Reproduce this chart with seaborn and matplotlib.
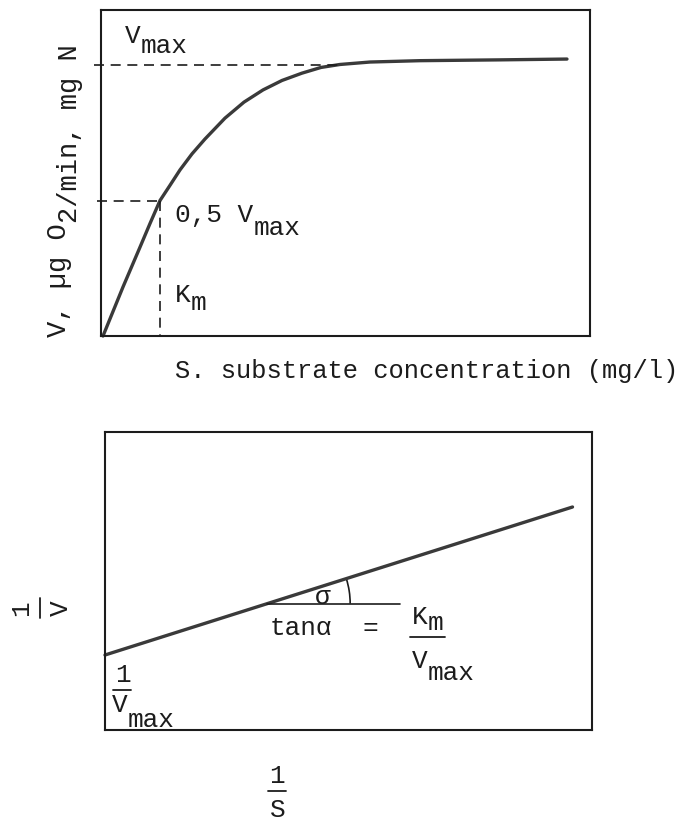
import math
import matplotlib
matplotlib.use("Agg")
import matplotlib.pyplot as plt
from matplotlib.patches import Arc
from matplotlib.lines import Line2D
from matplotlib.transforms import offset_copy
import seaborn as sns

# Saturation curve V(S): substrate concentration vs. uptake rate
S_conc = [0.000, 0.409, 0.757, 0.961, 1.166, 1.370, 1.575, 1.820, 2.086, 2.495,
          2.883, 3.272, 3.661, 4.070, 4.458, 4.847, 5.460, 6.483, 8.119, 9.489]
V_rate = [0.000, 0.181, 0.328, 0.415, 0.500, 0.556, 0.613, 0.672, 0.727, 0.804,
          0.863, 0.908, 0.943, 0.970, 0.991, 1.002, 1.011, 1.016, 1.019, 1.022]
V_MAX = 1.0
HALF_V = 0.5
K_M = 1.166

# Double reciprocal (Lineweaver-Burk) straight line 1/V against 1/S
inv_S = [0.0, 9.6]
inv_V = [0.75, 2.23]
TRI_START = 3.33
TRI_END = 6.06

W, H = 689, 824
sns.set_style("white")
plt.rcParams["font.family"] = ["Liberation Mono", "DejaVu Sans"]

INK = "#1c1c1c"
CURVE = "#3a3a3a"
FS = 18.8

fig = plt.figure(figsize=(W / 100, H / 100), dpi=100)
fig.patch.set_facecolor("white")


def fx(px):
    return px / W


def fy(py):
    return 1 - py / H


def box(x0, y0, x1, y1):
    return [fx(x0), fy(y1), (x1 - x0) / W, (y1 - y0) / H]


ax1 = fig.add_axes(box(101, 10, 590, 336))
ax2 = fig.add_axes(box(105, 432, 592, 730))

for ax in (ax1, ax2):
    ax.set_xticks([])
    ax.set_yticks([])
    ax.set_xlabel("")
    ax.set_ylabel("")
    for sp in ax.spines.values():
        sp.set_visible(True)
        sp.set_color(INK)
        sp.set_linewidth(1.5)

# ---- upper panel: V versus S ----
ax1.set_xlim(-0.041, 9.96)
ax1.set_ylim(0, 1.203)
sns.lineplot(x=S_conc, y=V_rate, ax=ax1, color=CURVE, lw=2.4,
             sort=False, estimator=None, clip_on=False)
dash = (0, (6, 4))
ax1.plot([-0.18, 4.85], [V_MAX, V_MAX], ls=dash, color=INK, lw=1.2, clip_on=False)
ax1.plot([-0.12, K_M], [HALF_V, HALF_V], ls=dash, color=INK, lw=1.2, clip_on=False)
ax1.plot([K_M, K_M], [HALF_V, 0], ls=dash, color=INK, lw=1.2, clip_on=False)

# ---- lower panel: 1/V versus 1/S ----
ax2.set_xlim(0, 10.0)
ax2.set_ylim(0, 2.98)
sns.lineplot(x=inv_S, y=inv_V, ax=ax2, color=CURVE, lw=2.4,
             sort=False, estimator=None, clip_on=False)
slope = (inv_V[1] - inv_V[0]) / (inv_S[1] - inv_S[0])
y_tri = inv_V[0] + slope * (TRI_START - inv_S[0])
ax2.plot([TRI_START, TRI_END], [y_tri, y_tri], color=INK, lw=1.2)

pos = ax2.get_position()
px_per_x = pos.width * W / (ax2.get_xlim()[1] - ax2.get_xlim()[0])
px_per_y = pos.height * H / (ax2.get_ylim()[1] - ax2.get_ylim()[0])
r_px = 83
ax2.add_patch(Arc((TRI_START, y_tri), 2 * r_px / px_per_x, 2 * r_px / px_per_y,
                  theta1=0, theta2=math.degrees(math.atan(slope)),
                  color=INK, lw=1.2))


# ---- text helpers (figure pixel positions) ----
def txt(x, y, s, fs=FS, **kw):
    kw.setdefault("ha", "left")
    kw.setdefault("va", "baseline")
    return fig.text(fx(x), fy(y), s, fontsize=fs, color=INK, **kw)


def sub_txt(x, y, base, sub, drop_px, fs=FS, rot=0):
    """Typewriter-style subscript: same size, lowered by drop_px."""
    kw = dict(ha="left", va="baseline", rotation=rot, rotation_mode="anchor")
    txt(x, y, base, fs=fs, **kw)
    adv = len(base) * 0.6 * fs
    drop = drop_px * 0.72
    if rot == 0:
        dx, dy = adv, -drop
    else:
        dx, dy = drop, adv
    tr = offset_copy(fig.transFigure, fig=fig, x=dx, y=dy, units="points")
    fig.text(fx(x), fy(y), sub, fontsize=fs, color=INK, transform=tr, **kw)


def bar(x0, x1, y):
    fig.add_artist(Line2D([fx(x0), fx(x1)], [fy(y), fy(y)],
                          transform=fig.transFigure, color=INK, lw=1.3))


def vbar(x, y0, y1):
    fig.add_artist(Line2D([fx(x), fx(x)], [fy(y0), fy(y1)],
                          transform=fig.transFigure, color=INK, lw=1.3))


# upper panel annotations
sub_txt(125, 43, "V", "max", 10)
sub_txt(175, 222, "0,5 V", "max", 13)
sub_txt(175, 302, "K", "m", 8)

# upper panel axis titles
txt(175, 378, "S. substrate concentration (mg/l)", fs=18.4)
sub_txt(66, 337, "V, µg O", "2/min, mg N", 11, fs=19.5, rot=90)

# lower panel annotations
txt(323, 597, "σ", ha="center", va="center")
txt(270, 635, "tanα")
txt(363, 635, "=")
sub_txt(412, 624, "K", "m", 6)
bar(410, 445, 637)
sub_txt(412, 668, "V", "max", 12)
txt(115, 682, "1")
bar(113, 131, 690)
sub_txt(112, 712, "V", "max", 15)

# lower panel axis titles
txt(21, 608, "1", ha="center", va="center", rotation=90, rotation_mode="anchor")
vbar(40, 598, 618)
txt(61, 608, "V", ha="center", va="center", rotation=90, rotation_mode="anchor")
txt(277, 776, "1", ha="center", va="center")
bar(268, 286, 791)
txt(278, 810, "S", ha="center", va="center")

fig.savefig("out.png", dpi=100, facecolor="white")
